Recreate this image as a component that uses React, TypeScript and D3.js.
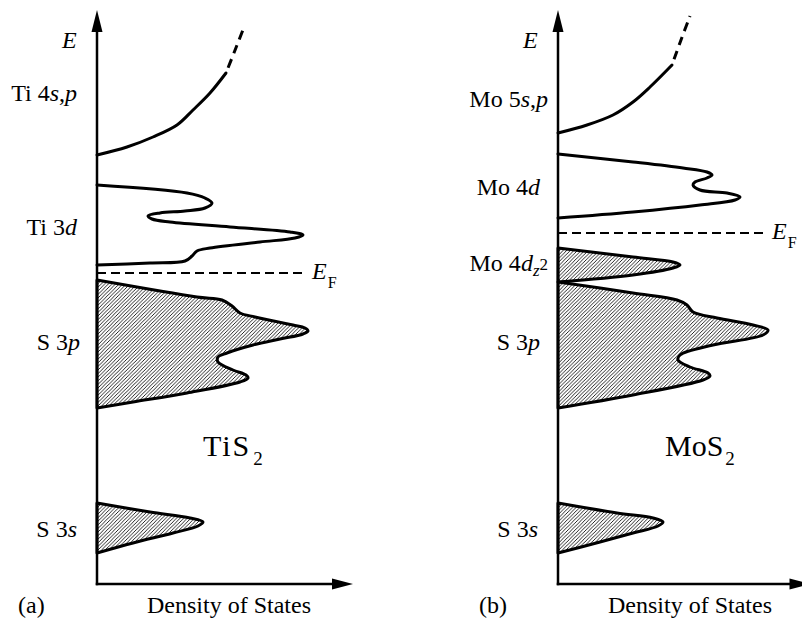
import React from "react";
import * as d3 from "d3";

// Energy (arbitrary units, 0 at the DOS axis) and density of states (arbitrary units)
type Pt = [number, number]; // [dos, energy]

// ---- TiS2 ----
const tiS2_4sp: Pt[] = [[0, 85.8], [12, 87.4], [22.4, 89.4], [32, 91.8], [38.4, 94.8], [45.2, 98.2], [51.6, 102.2]];
const tiS2_4spTail: Pt[] = [[51.6, 102.2], [55.4, 107], [59, 111.6]];
const tiS2_3d: Pt[] = [
  [0, 79.8], [36, 78.2], [43.2, 77.2], [46, 76.2], [43.2, 75.2], [35.2, 74.6], [25.2, 74.2],
  [20.4, 73.6], [22, 73], [29.2, 72.4], [53.2, 71.4], [77.2, 70.4], [82.4, 69.8], [79.2, 69.2],
  [65.2, 68.4], [45.2, 67.2], [40, 66.6], [38, 65.6], [35.2, 64.6], [21.2, 64.2], [0, 63.8],
];
const tiS2_3p: Pt[] = [
  [0, 60.8], [40, 57.4], [50, 56.8], [54, 55.6], [57.2, 54.2], [63.2, 53.4], [78.4, 51.8],
  [83.2, 51.2], [84.4, 50.6], [82.4, 50], [73.2, 49], [62.4, 47.8], [52, 46.2], [48.4, 45.4],
  [48.4, 44.4], [54.4, 42.8], [59.6, 41.8], [60.4, 41.2], [57.2, 40.4], [36, 38.2], [14.4, 36.4], [0, 35.2],
];
const tiS2_3s: Pt[] = [[0, 16.2], [21.2, 14.4], [37.2, 13.2], [42.4, 12.4], [40.4, 11.6], [30.4, 10.2], [14.4, 8.2], [0, 6.2]];
const tiS2_EF = 62.2;

// ---- MoS2 ----
const moS2_5sp: Pt[] = [[0, 90.2], [11.6, 91.8], [22, 93.8], [30, 96.4], [36.8, 99.4], [45.6, 103.8]];
const moS2_5spTail: Pt[] = [[45.6, 103.8], [49.2, 108.8], [52.8, 113.6]];
const moS2_4d: Pt[] = [
  [0, 86], [30, 84.4], [50, 83.2], [59.6, 82.4], [61.6, 81.8], [59.6, 81.2], [54.8, 80.4],
  [54, 79.8], [56.8, 78.8], [67.6, 78.2], [72.8, 77.4], [70.8, 76.8], [56.8, 75.8], [30, 74.4], [0, 73.2],
];
const moS2_4dz2: Pt[] = [[0, 67.2], [30, 65.4], [46, 64.4], [48.8, 63.8], [46, 63.2], [30, 61.8], [0, 60.4]];
const moS2_3p: Pt[] = [
  [0, 60.4], [30, 58.2], [47.6, 56.8], [51.6, 55.8], [54, 54.4], [63.6, 53.2], [78, 51.8],
  [84, 50.8], [82, 49.8], [62, 47.8], [48.8, 45.8], [48, 44.8], [52.8, 43.4], [60, 42.2],
  [60.8, 41.6], [58, 40.8], [30, 37.8], [0, 35.2],
];
const moS2_3s: Pt[] = [[0, 16.2], [23.6, 14.2], [38, 13.2], [42, 12.4], [40, 11.6], [30, 10.2], [16.8, 8.4], [0, 6.2]];
const moS2_EF = 70.2;

const E_MAX = 114.8;
const FONT = "'Liberation Serif', 'DejaVu Serif', serif";
const FS = 24;
const W = 802;
const H = 623;

const yScale = d3.scaleLinear().domain([0, E_MAX]).range([584, 10]);

type Label = { text: React.ReactNode; x: number; y: number };

type PanelProps = {
  x0: number;
  dosMax: number;
  open: Pt[][];
  tails: Pt[][];
  filled: Pt[][];
  ef: number;
  efEnd: number;
  labels: Label[];
  tag: string;
  compound: string;
  compoundX: number;
  compoundSpacing: number;
};

function Panel({ x0, dosMax, open, tails, filled, ef, efEnd, labels, tag, compound, compoundX, compoundSpacing }: PanelProps) {
  const x = d3.scaleLinear().domain([0, 100]).range([x0, x0 + 250]);
  const line = d3
    .line<Pt>()
    .x((d) => x(d[0]))
    .y((d) => yScale(d[1]))
    .curve(d3.curveCatmullRom.alpha(0.5));
  const axisY = yScale(0);
  const topY = yScale(E_MAX);
  const rightX = x(dosMax);
  const efY = yScale(ef);

  return (
    <g>
      {filled.map((b, i) => (
        <path key={"f" + i} d={line(b) + "Z"} fill="url(#hatch)" stroke="#000" strokeWidth={3} strokeLinejoin="round" />
      ))}
      {open.map((b, i) => (
        <path key={"o" + i} d={line(b) ?? ""} fill="none" stroke="#000" strokeWidth={3} strokeLinecap="round" />
      ))}
      {tails.map((b, i) => (
        <path key={"t" + i} d={line(b) ?? ""} fill="none" stroke="#000" strokeWidth={3} strokeDasharray="9,6" strokeDashoffset={9} />
      ))}
      {/* Fermi level */}
      <line x1={x0} x2={efEnd} y1={efY} y2={efY} stroke="#000" strokeWidth={2} strokeDasharray="9,5" />
      <text x={efEnd + 6} y={efY + 6} fontFamily={FONT} fontSize={FS} fontStyle="italic">
        E<tspan fontStyle="normal" fontSize={16} dy={9} dx={1}>F</tspan>
      </text>
      {/* axes */}
      <line x1={x0} x2={x0} y1={axisY + 1.25} y2={topY + 18} stroke="#000" strokeWidth={2.5} />
      <path d={`M${x0},${topY} L${x0 - 5.5},${topY + 22} L${x0 + 5.5},${topY + 22} Z`} fill="#000" />
      <line x1={x0 - 1.25} x2={rightX - 18} y1={axisY} y2={axisY} stroke="#000" strokeWidth={2.5} />
      <path d={`M${rightX},${axisY} L${rightX - 21},${axisY - 5.5} L${rightX - 21},${axisY + 5.5} Z`} fill="#000" />
      <text x={x0 - 35} y={48} fontFamily={FONT} fontSize={FS} fontStyle="italic">E</text>
      {labels.map((l, i) => (
        <text key={"l" + i} x={l.x} y={l.y} textAnchor="end" fontFamily={FONT} fontSize={FS}>
          {l.text}
        </text>
      ))}
      <text x={x0 - 79} y={613} fontFamily={FONT} fontSize={FS}>{tag}</text>
      <text x={x0 + 50} y={613} fontFamily={FONT} fontSize={FS}>Density of States</text>
      <text x={compoundX} y={456} fontFamily={FONT} fontSize={30} letterSpacing={compoundSpacing}>
        {compound}
        <tspan fontSize={19} dy={9} dx={2} letterSpacing={0}>2</tspan>
      </text>
    </g>
  );
}

export default function App() {
  const it = (s: string) => <tspan fontStyle="italic">{s}</tspan>;
  return (
    <svg width={W} height={H} viewBox={`0 0 ${W} ${H}`} style={{ position: "absolute", left: 0, top: 0, background: "#fff" }}>
      <defs>
        <pattern id="hatch" width={3.6} height={3.6} patternUnits="userSpaceOnUse">
          <rect width={3.6} height={3.6} fill="#fff" />
          <path d="M-0.9,0.9 L0.9,-0.9 M0,3.6 L3.6,0 M2.7,4.5 L4.5,2.7" stroke="#000" strokeWidth={0.85} />
        </pattern>
      </defs>
      <rect width={W} height={H} fill="#fff" />
      <Panel
        x0={97}
        dosMax={102.4}
        open={[tiS2_4sp, tiS2_3d]}
        tails={[tiS2_4spTail]}
        filled={[tiS2_3p, tiS2_3s]}
        ef={tiS2_EF}
        efEnd={306}
        tag="(a)"
        compound="TiS"
        compoundX={203}
        compoundSpacing={2}
        labels={[
          { text: <>Ti 4{it("s")},{it("p")}</>, x: 77, y: 101 },
          { text: <>Ti 3{it("d")}</>, x: 77, y: 235 },
          { text: <>S 3{it("p")}</>, x: 80, y: 350 },
          { text: <>S 3{it("s")}</>, x: 77, y: 537 },
        ]}
      />
      <Panel
        x0={558}
        dosMax={101}
        open={[moS2_5sp, moS2_4d]}
        tails={[moS2_5spTail]}
        filled={[moS2_4dz2, moS2_3p, moS2_3s]}
        ef={moS2_EF}
        efEnd={766}
        tag="(b)"
        compound="MoS"
        compoundX={665}
        compoundSpacing={0}
        labels={[
          { text: <>Mo 5{it("s")},{it("p")}</>, x: 548, y: 107 },
          { text: <>Mo 4{it("d")}</>, x: 540, y: 195 },
          {
            text: (
              <>
                Mo 4{it("d")}
                <tspan fontStyle="italic" fontSize={17} dy={5}>z</tspan>
                <tspan fontSize={17} dy={-6}>2</tspan>
              </>
            ),
            x: 548,
            y: 271,
          },
          { text: <>S 3{it("p")}</>, x: 540, y: 350 },
          { text: <>S 3{it("s")}</>, x: 538, y: 537 },
        ]}
      />
    </svg>
  );
}
